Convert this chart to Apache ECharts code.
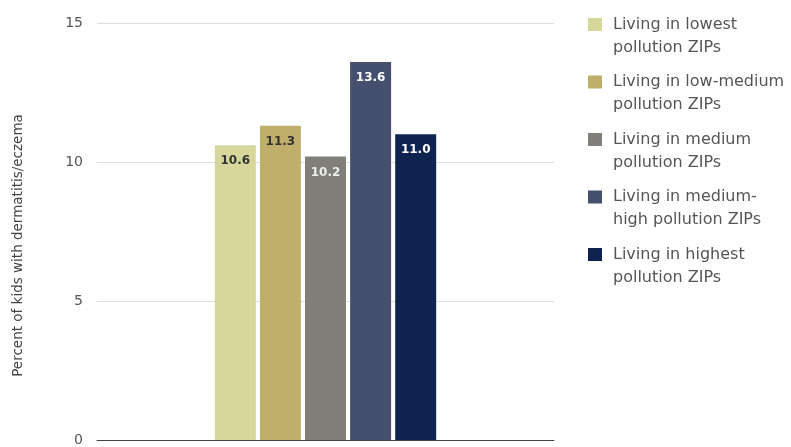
<!DOCTYPE html>
<html>
<head>
<meta charset="utf-8">
<script src="https://cdn.jsdelivr.net/npm/echarts@6/dist/echarts.min.js"></script>
<style>html,body{margin:0;padding:0;background:#fff}#c{width:791px;height:447px}</style>
</head>
<body>
<div id="c"></div>
<script>
const categories = [''];
const seriesNames = [
  'Living in lowest\npollution ZIPs',
  'Living in low-medium\npollution ZIPs',
  'Living in medium\npollution ZIPs',
  'Living in medium-\nhigh pollution ZIPs',
  'Living in highest\npollution ZIPs'
];
const values = [10.6, 11.3, 10.2, 13.6, 11.0];
const colors = ['#d7d69b', '#c0ae6b', '#807f79', '#45506f', '#0e2350'];
const labelColors = ['#333333', '#333333', '#eeeeee', '#ffffff', '#ffffff'];
const yTicks = [0, 5, 10, 15];
const yAxisTitle = 'Percent of kids with dermatitis/eczema';

const chart = echarts.init(document.getElementById('c'));
const font = '"DejaVu Sans", Verdana, sans-serif';
chart.setOption({
  animation: false,
  textStyle: { fontFamily: font },
  grid: { left: 97, right: 237, top: 23, bottom: 5, containLabel: false },
  legend: {
    orient: 'vertical',
    left: 588,
    top: -10,
    padding: 0,
    itemWidth: 14,
    itemHeight: 13,
    itemGap: -11.5,
    icon: 'rect',
    data: seriesNames,
    formatter: (n) => '\n' + n,
    textStyle: { fontSize: 16, color: '#555', lineHeight: 23, padding: [0, 0, 0, 6], fontFamily: font }
  },
  xAxis: {
    type: 'category',
    data: categories,
    axisLine: { lineStyle: { color: '#444', width: 1 } },
    axisTick: { show: false },
    axisLabel: { show: false }
  },
  yAxis: {
    type: 'value',
    min: yTicks[0],
    max: yTicks[yTicks.length - 1],
    interval: 5,
    name: yAxisTitle,
    nameLocation: 'middle',
    nameGap: 72,
    nameTextStyle: { fontSize: 13.5, color: '#444', fontFamily: font, padding: [0, 28, 0, 0] },
    axisLine: { show: false },
    axisTick: { show: false },
    axisLabel: { fontSize: 14, color: '#555', margin: 14, fontFamily: font },
    splitLine: { lineStyle: { color: '#dddddd' } }
  },
  series: seriesNames.map((n, i) => ({
    name: n,
    type: 'bar',
    data: [values[i]],
    barWidth: 41,
    barGap: '10%',
    itemStyle: { color: colors[i] },
    label: {
      show: true,
      position: 'insideTop',
      distance: 10,
      formatter: (p) => p.value.toFixed(1),
      fontSize: 12,
      fontWeight: 'bold',
      color: labelColors[i],
      fontFamily: font
    }
  }))
});
</script>
</body>
</html>
